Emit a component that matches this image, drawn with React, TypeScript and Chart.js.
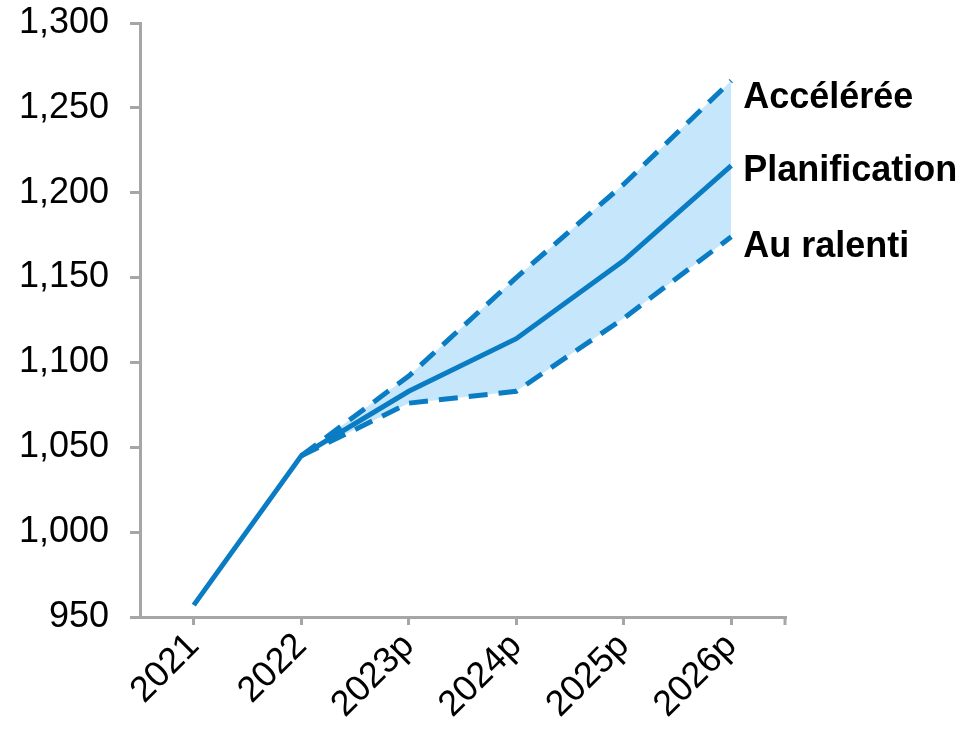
import React, { useEffect, useRef } from "react";
import { Chart, registerables } from "chart.js";

Chart.register(...registerables);

const categories = ["2021", "2022", "2023p", "2024p", "2025p", "2026p"];
const planification = [957, 1045, 1083, 1114, 1160, 1216];
const acceleree = [null, 1045, 1092, 1150, 1205, 1266];
const ralenti = [null, 1045, 1076, 1083, 1126, 1174];
const seriesNames = ["Accélérée", "Planification", "Au ralenti"];
const yTicks = [950, 1000, 1050, 1100, 1150, 1200, 1250, 1300];

const BLUE = "#0A7CC3";
const FILL = "#C5E6FB";
const AXIS = "#A6A6A6";
const FONT = "'Liberation Sans', Arial, sans-serif";

const endLabels = {
  id: "endLabels",
  afterDraw(chart: any) {
    const ctx = chart.ctx;
    const xs = chart.scales.x;
    const ys = chart.scales.y;
    const offsets = [17, 6, 10];
    ctx.save();
    ctx.font = `bold 36px ${FONT}`;
    ctx.fillStyle = "#000";
    ctx.textBaseline = "middle";
    ctx.textAlign = "left";
    chart.data.datasets.forEach((ds: any, i: number) => {
      const last = ds.data.length - 1;
      const x = xs.getPixelForValue(last) + 12;
      const y = ys.getPixelForValue(ds.data[last]) + offsets[i];
      ctx.fillText(seriesNames[i], x, y);
    });
    // end tick at right of x axis
    ctx.strokeStyle = AXIS;
    ctx.lineWidth = 3;
    ctx.beginPath();
    ctx.moveTo(chart.chartArea.right, chart.chartArea.bottom);
    ctx.lineTo(chart.chartArea.right, chart.chartArea.bottom + 8);
    ctx.stroke();
    ctx.restore();
  },
};

export default function App() {
  const ref = useRef<HTMLCanvasElement | null>(null);
  useEffect(() => {
    if (!ref.current) return;
    const chart = new Chart(ref.current, {
      type: "line",
      data: {
        labels: categories,
        datasets: [
          {
            label: seriesNames[0],
            data: acceleree,
            borderColor: BLUE,
            borderWidth: 5,
            borderDash: [19, 11],
            pointRadius: 0,
            fill: 2,
            backgroundColor: FILL,
          },
          {
            label: seriesNames[1],
            data: planification,
            borderColor: BLUE,
            borderWidth: 5,
            pointRadius: 0,
            fill: false,
          },
          {
            label: seriesNames[2],
            data: ralenti,
            borderColor: BLUE,
            borderWidth: 5,
            borderDash: [19, 11],
            pointRadius: 0,
            fill: false,
          },
        ],
      },
      options: {
        animation: false,
        responsive: false,
        maintainAspectRatio: false,
        layout: { padding: { top: 23, right: 176, left: 0, bottom: 0 } },
        plugins: {
          legend: { display: false },
          tooltip: { enabled: false },
          filler: { drawTime: "beforeDatasetsDraw" },
        },
        scales: {
          x: {
            type: "category",
            offset: true,
            grid: {
              display: true,
              offset: false,
              drawOnChartArea: false,
              drawTicks: true,
              tickLength: 8,
              color: AXIS,
              lineWidth: 3,
            },
            border: { display: true, color: AXIS, width: 3 },
            ticks: {
              minRotation: 45,
              maxRotation: 45,
              padding: 0,
              color: "#000",
              font: { family: FONT, size: 36 },
            },
            afterFit: (s: any) => {
              s.height = 118;
              s.paddingLeft = 0;
              s.paddingRight = 0;
              s.paddingTop = 0;
              s.paddingBottom = 0;
            },
          },
          y: {
            min: 950,
            max: 1300,
            afterBuildTicks: (s: any) => {
              s.ticks = yTicks.map((v) => ({ value: v }));
            },
            grid: {
              display: true,
              drawOnChartArea: false,
              drawTicks: true,
              tickLength: 10,
              color: AXIS,
              lineWidth: 3,
            },
            border: { display: true, color: AXIS, width: 3 },
            ticks: {
              padding: 21,
              color: "#000",
              font: { family: FONT, size: 36 },
              callback: (v: any) => Number(v).toLocaleString("en-US"),
            },
            afterFit: (s: any) => {
              s.width = 140;
              s.paddingTop = 0;
              s.paddingBottom = 0;
              s.paddingLeft = 0;
              s.paddingRight = 0;
            },
          },
        },
      },
      plugins: [endLabels],
    });
    return () => chart.destroy();
  }, []);
  return (
    <div style={{ position: "fixed", left: 0, top: 0, width: 961, height: 735, background: "#fff" }}>
      <canvas ref={ref} width={961} height={735} style={{ width: 961, height: 735 }} />
    </div>
  );
}
